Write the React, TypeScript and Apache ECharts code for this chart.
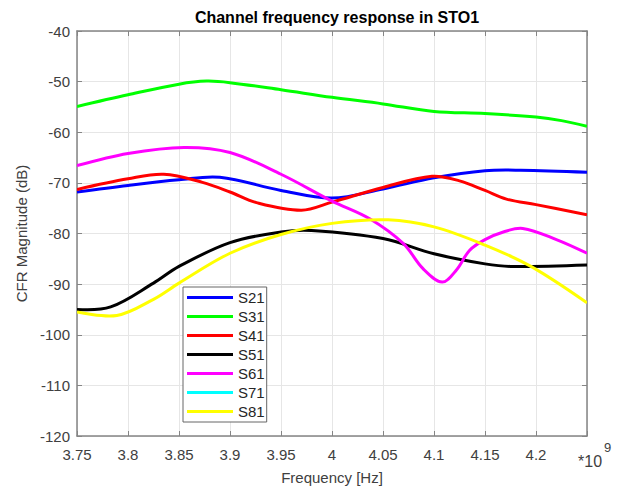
import React, { useEffect, useRef } from "react";
import * as echarts from "echarts";

// Frequency points (in units of 1e9 Hz) and CFR magnitude (dB) for each channel
const F_S21 = [3.75, 3.8, 3.85, 3.89, 3.95, 4.0, 4.05, 4.1, 4.15, 4.185, 4.25];
const S21 = [-71.8, -70.5, -69.4, -68.9, -71.5, -73.0, -71.2, -69.0, -67.6, -67.5, -67.9];

const F_S31 = [3.75, 3.8, 3.85, 3.877, 3.9, 3.95, 4.0, 4.05, 4.1, 4.15, 4.2, 4.225, 4.25];
const S31 = [-54.9, -52.6, -50.5, -49.9, -50.2, -51.6, -53.1, -54.4, -55.9, -56.3, -57.0, -57.7, -58.8];

const F_S41 = [
  3.75, 3.8, 3.835, 3.873, 3.9, 3.926, 3.97, 4.0, 4.05, 4.098, 4.125, 4.15, 4.171, 4.2, 4.25,
];
const S41 = [
  -71.3, -69.2, -68.3, -69.9, -71.8, -73.9, -75.4, -73.8, -70.9, -68.7, -69.6, -71.5, -73.2,
  -74.3, -76.3,
];

const F_S51 = [3.75, 3.783, 3.825, 3.85, 3.9, 3.95, 3.98, 4.05, 4.1, 4.15, 4.175, 4.25];
const S51 = [-95.0, -94.5, -89.8, -86.5, -81.8, -79.7, -79.4, -81.0, -84.0, -86.0, -86.5, -86.2];

const F_S61 = [
  3.75, 3.8, 3.855, 3.9, 3.95, 4.0, 4.037, 4.07, 4.089, 4.108, 4.122, 4.135, 4.15, 4.168,
  4.187, 4.22, 4.25,
];
const S61 = [
  -66.6, -64.2, -63.0, -64.0, -68.3, -73.6, -77.1, -82.0, -86.9, -89.6, -87.2, -83.3, -81.2,
  -79.7, -79.0, -81.2, -83.9,
];

const F_S71: number[] = [];
const S71: number[] = [];

const F_S81 = [3.75, 3.789, 3.825, 3.85, 3.9, 3.95, 4.0, 4.055, 4.1, 4.15, 4.195, 4.25];
const S81 = [-95.5, -96.2, -93.0, -89.8, -83.9, -80.2, -78.0, -77.3, -78.7, -82.3, -86.5, -93.7];

const Y_MIN = -120;
const Y_MAX = -40;
const X_MIN = 3.75;
const X_MAX = 4.25;

const FONT = "'Liberation Sans', Arial, sans-serif";
const AXIS_COLOR = "#858585";
const LABEL_COLOR = "#404040";

function pairs(xs: number[], ys: number[]) {
  return ys.map((v, i) => [xs[i], v]);
}

// One smooth curve per channel: the whole polyline is emitted from the first
// data item, positioned through the grid's own coordinate system.
function curve(name: string, data: number[][], color: string, width = 3) {
  return {
    name,
    type: "custom",
    data,
    encode: { x: 0, y: 1 },
    itemStyle: { color },
    clip: true,
    silent: true,
    renderItem: (params: any, api: any) => {
      if (params.dataIndex !== 0) return null;
      const points = data.map((d) => api.coord(d));
      return {
        type: "polyline",
        shape: { points, smooth: 0.35 },
        style: { stroke: color, lineWidth: width, fill: null, lineJoin: "round" },
      };
    },
  };
}

export default function App() {
  const ref = useRef<HTMLDivElement>(null);

  useEffect(() => {
    if (!ref.current) return;
    const chart = echarts.init(ref.current, undefined, { renderer: "svg" });

    const sideAxis = {
      axisLabel: { show: false },
      axisTick: { show: true, inside: true, length: 5, lineStyle: { color: AXIS_COLOR } },
      axisLine: { show: true, lineStyle: { color: AXIS_COLOR, width: 1.5 } },
      splitLine: { show: false },
    };

    chart.setOption({
      animation: false,
      backgroundColor: "#ffffff",
      textStyle: { fontFamily: FONT },
      title: {
        text: "Channel frequency response in STO1",
        left: 332,
        top: 4,
        textAlign: "center",
        textStyle: { fontSize: 16, fontWeight: "bold", color: "#000", fontFamily: FONT },
      },
      grid: { left: 77, right: 36, top: 31, bottom: 51, containLabel: false },
      xAxis: [
        {
          type: "value",
          min: X_MIN,
          max: X_MAX,
          interval: 0.05,
          name: "Frequency [Hz]",
          nameLocation: "middle",
          nameGap: 34,
          nameTextStyle: { fontSize: 15, color: LABEL_COLOR, fontFamily: FONT },
          axisLabel: {
            fontSize: 15,
            color: LABEL_COLOR,
            margin: 11,
            fontFamily: FONT,
            formatter: (v: number) =>
              Math.abs(v - X_MAX) < 1e-9 ? "" : String(Math.round(v * 1000) / 1000),
          },
          axisTick: { show: true, inside: true, length: 5, lineStyle: { color: AXIS_COLOR } },
          axisLine: { show: true, onZero: false, lineStyle: { color: AXIS_COLOR, width: 1.5 } },
          splitLine: { show: true, lineStyle: { color: "#e6e6e6", width: 1 } },
        },
        {
          type: "value",
          position: "top",
          min: X_MIN,
          max: X_MAX,
          interval: 0.05,
          ...sideAxis,
        },
      ],
      yAxis: [
        {
          type: "value",
          min: Y_MIN,
          max: Y_MAX,
          interval: 10,
          name: "CFR Magnitude (dB)",
          nameLocation: "middle",
          nameGap: 45,
          nameTextStyle: { fontSize: 15, color: LABEL_COLOR, fontFamily: FONT },
          axisLabel: { fontSize: 15, color: LABEL_COLOR, margin: 7, fontFamily: FONT },
          axisTick: { show: true, inside: true, length: 5, lineStyle: { color: AXIS_COLOR } },
          axisLine: { show: true, onZero: false, lineStyle: { color: AXIS_COLOR, width: 1.5 } },
          splitLine: { show: true, lineStyle: { color: "#e6e6e6", width: 1 } },
        },
        {
          type: "value",
          position: "right",
          min: Y_MIN,
          max: Y_MAX,
          interval: 10,
          ...sideAxis,
        },
      ],
      legend: {
        left: 183,
        top: 287,
        orient: "vertical",
        icon: "rect",
        itemWidth: 46,
        itemHeight: 3,
        itemGap: 4,
        padding: [3, 2, 3, 4],
        borderColor: "#666",
        borderWidth: 1,
        borderRadius: 0,
        backgroundColor: "#ffffff",
        textStyle: { fontSize: 15, lineHeight: 15, color: "#262626", fontFamily: FONT },
        data: ["S21", "S31", "S41", "S51", "S61", "S71", "S81"],
      },
      series: [
        curve("S21", pairs(F_S21, S21), "#0000ff"),
        curve("S31", pairs(F_S31, S31), "#00ff00"),
        curve("S41", pairs(F_S41, S41), "#ff0000"),
        curve("S51", pairs(F_S51, S51), "#000000"),
        curve("S61", pairs(F_S61, S61), "#ff00ff"),
        curve("S71", pairs(F_S71, S71), "#00ffff", 2),
        curve("S81", pairs(F_S81, S81), "#ffff00"),
      ],
      graphic: [
        {
          type: "text",
          left: 578,
          top: 453,
          style: { text: "*10", fontSize: 16, fill: LABEL_COLOR, fontFamily: FONT },
        },
        {
          type: "text",
          left: 604,
          top: 441,
          style: { text: "9", fontSize: 13, fill: LABEL_COLOR, fontFamily: FONT },
        },
      ],
    });

    return () => chart.dispose();
  }, []);

  return (
    <div
      ref={ref}
      style={{ position: "absolute", left: 0, top: 0, width: 623, height: 490 }}
    />
  );
}
